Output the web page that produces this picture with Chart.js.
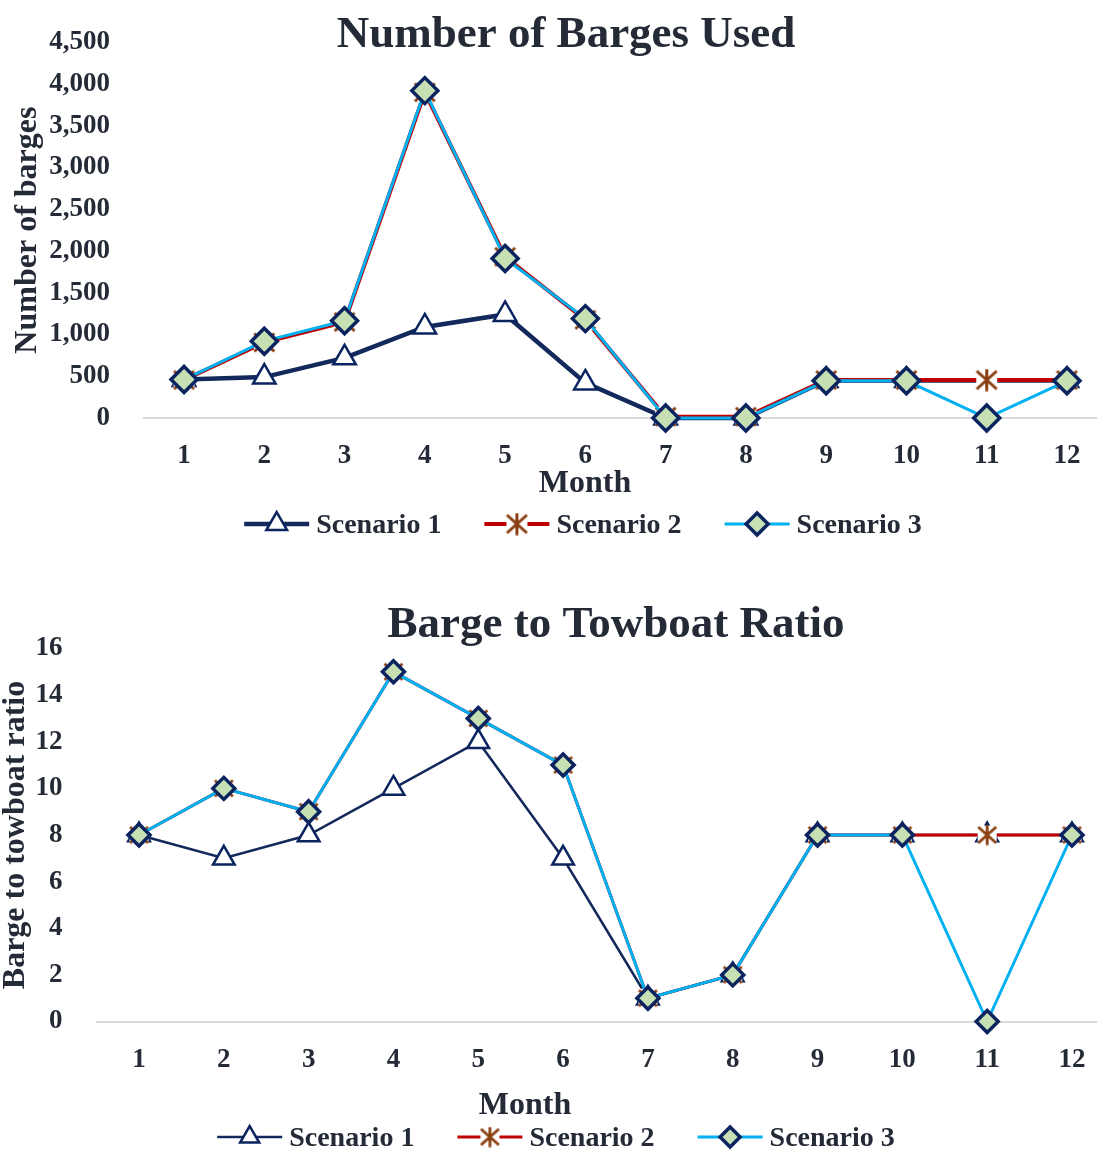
<!DOCTYPE html>
<html>
<head>
<meta charset="utf-8">
<script src="https://cdn.jsdelivr.net/npm/chart.js@4.4.1/dist/chart.umd.min.js"></script>
<style>
  html, body { margin: 0; padding: 0; background: #ffffff; overflow: hidden; }
  #page { position: relative; width: 1097px; height: 1151px; overflow: hidden; background: #ffffff; }
  #page canvas { position: absolute; left: 0; }
  #bargesCanvas { top: 0; }
  #ratioCanvas { top: 560px; }
</style>
</head>
<body>
<div id="page">
  <canvas id="bargesCanvas" width="1130" height="560"></canvas>
  <canvas id="ratioCanvas" width="1130" height="591"></canvas>
</div>
<script>
// ---- data ----
const months = ['1', '2', '3', '4', '5', '6', '7', '8', '9', '10', '11', '12'];
const seriesNames = ['Scenario 1', 'Scenario 2', 'Scenario 3'];

// Number of barges used per month
const bargesScenario1 = [460, 490, 720, 1090, 1240, 420, 0, 0, 450, 450, null, 450];
const bargesScenario2 = [455, 905, 1150, 3900, 1930, 1175, 15, 15, 455, 455, 455, 455];
const bargesScenario3 = [460, 920, 1165, 3920, 1910, 1190, 0, 0, 445, 445, 0, 445];
const bargeTicks = [0, 500, 1000, 1500, 2000, 2500, 3000, 3500, 4000, 4500];

// Barge to towboat ratio per month
const ratioScenario1 = [8, 7, 8, 10, 12, 7, 1, 2, 8, 8, 8, 8];
const ratioScenario2 = [8, 10, 9, 15, 13, 11, 1, 2, 8, 8, 8, 8];
const ratioScenario3 = [8, 10, 9, 15, 13, 11, 1, 2, 8, 8, 0, 8];
const ratioTicks = [0, 2, 4, 6, 8, 10, 12, 14, 16];

// ---- styling ----
const FONT = "'Liberation Serif', 'Times New Roman', Times, serif";
const INK = '#242b37';
const NAVY = '#13295c';
const MARK_NAVY = '#0b2460';
const RED = '#c00000';
const BROWN = '#8a3f10';
const CYAN = '#00b0f0';
const LEAF = '#c6e0b4';
const AXIS_GREY = '#d9d9d9';

// asterisk marker (vertical bar crossed by an X) on a white ground
function makeStar(size, lw) {
  const c = document.createElement('canvas');
  c.width = size; c.height = size;
  const g = c.getContext('2d');
  g.fillStyle = '#ffffff';
  g.fillRect(1, 1, size - 2, size - 2);
  g.strokeStyle = BROWN;
  g.lineWidth = lw;
  const m = size / 2;
  g.beginPath();
  g.moveTo(m, 0.5); g.lineTo(m, size - 0.5);
  g.moveTo(1.5, 2.5); g.lineTo(size - 1.5, size - 2.5);
  g.moveTo(size - 1.5, 2.5); g.lineTo(1.5, size - 2.5);
  g.stroke();
  return c;
}

function scenarioSets(s1, s2, s3, sz) {
  return [
    {
      label: seriesNames[0], data: s1, order: 2, spanGaps: true, clip: false,
      borderColor: NAVY, borderWidth: sz.navyLine,
      pointStyle: 'triangle', pointRadius: sz.tri, pointBorderWidth: sz.triBorder,
      pointBackgroundColor: '#ffffff', pointBorderColor: MARK_NAVY,
      legendRadius: sz.legendTri
    },
    {
      label: seriesNames[1], data: s2, order: 1, clip: false,
      borderColor: RED, borderWidth: sz.redLine,
      pointStyle: sz.star, pointRadius: sz.starSize / 2,
      pointBackgroundColor: BROWN, pointBorderColor: BROWN,
      legendLine: sz.redLegend
    },
    {
      label: seriesNames[2], data: s3, order: 0, clip: false,
      borderColor: CYAN, borderWidth: sz.cyanLine,
      pointStyle: 'rectRot', pointRadius: sz.dia, pointBorderWidth: sz.diaBorder,
      pointBackgroundColor: LEAF, pointBorderColor: MARK_NAVY,
      legendRadius: sz.legendDia
    }
  ];
}

function drawMarker(ctx, ds, x, y) {
  const st = ds.pointStyle;
  if (typeof st === 'object') {
    ctx.drawImage(st, x - st.width / 2, y - st.height / 2);
    return;
  }
  const r = ds.legendRadius || ds.pointRadius;
  ctx.beginPath();
  if (st === 'triangle') {
    ctx.moveTo(x, y - r);
    ctx.lineTo(x + r * Math.sin(2 * Math.PI / 3), y - r * Math.cos(2 * Math.PI / 3));
    ctx.lineTo(x - r * Math.sin(2 * Math.PI / 3), y - r * Math.cos(2 * Math.PI / 3));
  } else {
    ctx.moveTo(x, y - r); ctx.lineTo(x + r, y); ctx.lineTo(x, y + r); ctx.lineTo(x - r, y);
  }
  ctx.closePath();
  ctx.fillStyle = ds.pointBackgroundColor;
  ctx.fill();
  ctx.lineWidth = ds.pointBorderWidth;
  ctx.strokeStyle = ds.pointBorderColor;
  ctx.lineJoin = 'miter';
  ctx.stroke();
}

// chart heading, x-axis caption and line-and-marker legend
const captions = {
  id: 'captions',
  afterDraw(chart, args, o) {
    const ctx = chart.ctx;
    ctx.save();
    ctx.fillStyle = INK;
    ctx.textBaseline = 'alphabetic';
    ctx.textAlign = 'center';
    ctx.font = `bold ${o.titleSize}px ${FONT}`;
    ctx.fillText(o.title, o.titleX, o.titleY);
    ctx.font = `bold ${o.axisSize}px ${FONT}`;
    ctx.fillText(o.axisTitle, o.axisX, o.axisY);

    ctx.font = `bold ${o.legendSize}px ${FONT}`;
    ctx.textAlign = 'left';
    const sets = chart.data.datasets;
    const widths = sets.map(ds => ctx.measureText(ds.label).width);
    const total = widths.reduce((a, w) => a + o.lineLen + o.textGap + w, 0) + o.itemGap * (sets.length - 1);
    let x = o.legendX - total / 2;
    sets.forEach((ds, i) => {
      ctx.beginPath();
      ctx.moveTo(x, o.legendY);
      ctx.lineTo(x + o.lineLen, o.legendY);
      ctx.lineWidth = ds.legendLine || ds.borderWidth;
      ctx.strokeStyle = ds.borderColor;
      ctx.stroke();
      drawMarker(ctx, ds, x + o.lineLen / 2, o.legendY);
      ctx.fillStyle = INK;
      ctx.fillText(ds.label, x + o.lineLen + o.textGap, o.legendTextY);
      x += o.lineLen + o.textGap + widths[i] + o.itemGap;
    });
    ctx.restore();
  }
};

function buildChart(canvasId, cfg) {
  const tickFont = { family: FONT, size: 27, weight: 'bold' };
  return new Chart(document.getElementById(canvasId), {
    type: 'line',
    data: { labels: months, datasets: cfg.datasets },
    plugins: [captions],
    options: {
      responsive: false,
      animation: false,
      events: [],
      layout: { padding: { top: cfg.top, right: cfg.right, left: 0, bottom: 0 } },
      elements: { line: { tension: 0 } },
      plugins: {
        legend: { display: false },
        title: { display: false },
        tooltip: { enabled: false },
        captions: cfg.captions
      },
      scales: {
        x: {
          type: 'category',
          offset: true,
          grid: { display: false },
          border: { display: true, color: AXIS_GREY, width: 2 },
          ticks: { color: INK, font: tickFont, padding: 14, maxRotation: 0, autoSkip: false },
          afterFit: s => { s.height = cfg.xHeight; }
        },
        y: {
          min: cfg.ticks[0],
          max: cfg.ticks[cfg.ticks.length - 1],
          grid: { display: false },
          border: { display: false },
          afterBuildTicks: s => { s.ticks = cfg.ticks.map(v => ({ value: v })); },
          ticks: {
            color: INK, font: tickFont, padding: 26,
            callback: v => Number(v).toLocaleString('en-US')
          },
          title: {
            display: true, text: cfg.yTitle, color: INK,
            font: { family: FONT, size: 32, weight: 'bold', lineHeight: 1 },
            padding: { top: cfg.yTitlePad, bottom: 0 }
          },
          afterFit: s => { s.width = cfg.yWidth; }
        }
      }
    }
  });
}

// Number of Barges Used
buildChart('bargesCanvas', {
  datasets: scenarioSets(bargesScenario1, bargesScenario2, bargesScenario3, {
    navyLine: 4.5, tri: 13, triBorder: 2.5, legendTri: 12,
    redLine: 4, redLegend: 4, star: makeStar(23, 3), starSize: 23,
    cyanLine: 3, dia: 13, diaBorder: 3.5, legendDia: 11
  }),
  ticks: bargeTicks,
  top: 40, right: 22.9, yWidth: 143.9, xHeight: 142,
  yTitle: 'Number of barges', yTitlePad: 12,
  captions: {
    title: 'Number of Barges Used', titleSize: 45, titleX: 566, titleY: 47,
    axisTitle: 'Month', axisSize: 32, axisX: 585, axisY: 492,
    legendSize: 28, legendX: 583, legendY: 524, legendTextY: 533,
    lineLen: 65, textGap: 7, itemGap: 43
  }
});

// Barge to Towboat Ratio
buildChart('ratioCanvas', {
  datasets: scenarioSets(ratioScenario1, ratioScenario2, ratioScenario3, {
    navyLine: 2.5, tri: 12.5, triBorder: 2.5, legendTri: 11,
    redLine: 3, redLegend: 3, star: makeStar(21, 2.8), starSize: 21,
    cyanLine: 3, dia: 11, diaBorder: 3.5, legendDia: 10
  }),
  ticks: ratioTicks,
  top: 88.5, right: 15.6, yWidth: 96.6, xHeight: 129.5,
  yTitle: 'Barge to towboat ratio', yTitlePad: 0,
  captions: {
    title: 'Barge to Towboat Ratio', titleSize: 45, titleX: 616, titleY: 77,
    axisTitle: 'Month', axisSize: 32, axisX: 525, axisY: 554,
    legendSize: 28, legendX: 556, legendY: 577, legendTextY: 586,
    lineLen: 65, textGap: 7, itemGap: 43
  }
});
</script>
</body>
</html>
